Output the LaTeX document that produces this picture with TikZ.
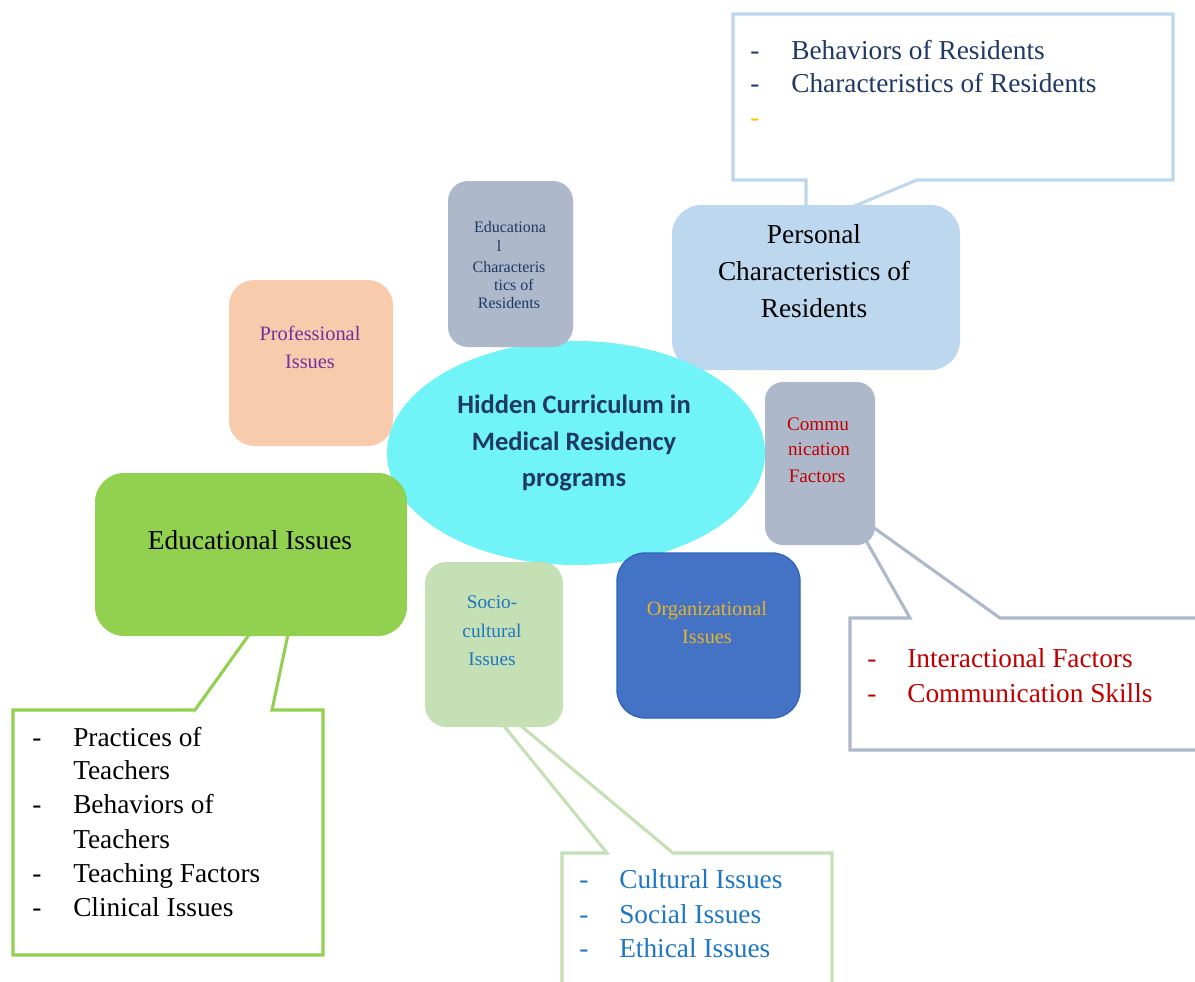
\documentclass[tikz,border=0pt]{standalone}
\usepackage{fontspec}
\setmainfont{Liberation Serif}
\newfontfamily\calibfont{Carlito}
\usetikzlibrary{fit,shapes.geometric}
\definecolor{cPers}{HTML}{BDD7EE}
\definecolor{cGray}{HTML}{ADB9CA}
\definecolor{cPeach}{HTML}{F8CBAD}
\definecolor{cGreen}{HTML}{92D050}
\definecolor{cLGreen}{HTML}{C5E0B4}
\definecolor{cBlue}{HTML}{4472C4}
\definecolor{cBlueLine}{HTML}{2F64B8}
\definecolor{cCyan}{HTML}{70F4F8}
\definecolor{cNavy}{HTML}{1F3864}
\definecolor{cPurple}{HTML}{7030A0}
\definecolor{cRed}{HTML}{C00000}
\definecolor{cGold}{HTML}{E8B52A}
\definecolor{cTBlue}{HTML}{1F77C4}
\definecolor{cOrange}{HTML}{FFC000}
\begin{document}
\begin{tikzpicture}[x=0.75pt,y=-0.75pt,
  txt/.style={inner sep=0pt, anchor=base},
  ltxt/.style={inner sep=0pt, anchor=base west},
  big/.style={font=\fontsize{20.5pt}{24pt}\selectfont},
  rbox/.style={inner sep=0pt, draw=none},
  callout/.style={line width=2.3pt, fill=white, line join=miter}]
\useasboundingbox (0,0) rectangle (1195,981);
\clip (0,0) rectangle (1195,981);

% callouts (behind)
\draw[callout, draw=cPers] (733,14) -- (1173,14) -- (1173,180) -- (917,180) -- (833,215) -- (806,215) -- (806,180) -- (733,180) -- cycle;
\draw[callout, draw=cGray] (850,618) -- (910,618) -- (860,530) -- (863,520) -- (1000,618) -- (1215,618) -- (1215,750) -- (850,750) -- cycle;
\draw[callout, draw=cLGreen] (562,853) -- (607,853) -- (495,715) -- (508,715) -- (673,853) -- (832,853) -- (832,1000) -- (562,1000) -- cycle;
\draw[callout, draw=cGreen] (13,710) -- (195,710) -- (256,625) -- (290,625) -- (272,710) -- (323,710) -- (323,955) -- (13,955) -- cycle;

% boxes
\node[rbox, fit={(229,280) (393,446)}, fill=cPeach, rounded corners=19pt] (prof) {};
\node[rbox, fit={(672,205) (960,370)}, fill=cPers, rounded corners=22pt] (pers) {};
\node[ellipse, inner sep=0pt, minimum width=283.5pt, minimum height=168pt, fill=cCyan] (hc) at (576,453) {};
\node[rbox, fit={(448,181) (573,347)}, fill=cGray, rounded corners=15pt] (edchar) {};
\node[rbox, fit={(95,473) (407,636)}, fill=cGreen, rounded corners=22pt] (edi) {};
\node[rbox, fit={(765,382) (875,545)}, fill=cGray, rounded corners=13.5pt] (comm) {};
\node[rbox, fit={(617,553) (800,718)}, fill=cBlue, draw=cBlueLine, line width=1pt, rounded corners=21pt] (org) {};
\node[rbox, fit={(425,562) (563,727)}, fill=cLGreen, rounded corners=16pt] (soc) {};

% center text
\begin{scope}[font=\calibfont\bfseries\fontsize{19.9pt}{24pt}\selectfont, text=cNavy]
\node[txt] (hc1) at (574,413) {Hidden Curriculum in};
\node[txt] (hc2) at (574,450) {Medical Residency};
\node[txt] (hc3) at (574,486) {programs};
\end{scope}

% personal box text
\begin{scope}[big]
\node[txt] (p1) at (814,243) {Personal};
\node[txt] (p2) at (814,280) {Characteristics of};
\node[txt] (p3) at (814,317) {Residents};
\node[txt] (e1) at (250,549) {Educational Issues};
\end{scope}

% professional
\begin{scope}[font=\fontsize{15.3pt}{18pt}\selectfont, text=cPurple]
\node[txt] (pr1) at (310,340) {Professional};
\node[txt] (pr2) at (310,368) {Issues};
\end{scope}

% educational characteristics
\begin{scope}[font=\fontsize{12pt}{14pt}\selectfont, text=cNavy]
\node[txt] (ec1) at (510,232) {Educationa};
\node[txt] (ec2) at (499,251) {l};
\node[txt] (ec3) at (509,272) {Characteris};
\node[txt] (ec4) at (514,290) {tics of};
\node[txt] (ec5) at (509,308) {Residents};
\end{scope}

% communication
\begin{scope}[font=\fontsize{14.4pt}{17pt}\selectfont, text=cRed]
\node[txt] (c1) at (818,430) {Commu};
\node[txt] (c2) at (819,455) {nication};
\node[txt] (c3) at (817,482) {Factors};
\end{scope}

% organizational
\begin{scope}[font=\fontsize{15.2pt}{18pt}\selectfont, text=cGold]
\node[txt] (o1) at (707,615) {Organizational};
\node[txt] (o2) at (707,643) {Issues};
\end{scope}

% socio-cultural
\begin{scope}[font=\fontsize{14.5pt}{17pt}\selectfont, text=cTBlue]
\node[txt] (s1) at (492,608) {Socio-};
\node[txt] (s2) at (492,637) {cultural};
\node[txt] (s3) at (492,665) {Issues};
\end{scope}

% callout texts
\begin{scope}[big, text=cNavy]
\node[ltxt] (pd1) at (750,60) {-};
\node[ltxt] (pt1) at (791,60) {Behaviors of Residents};
\node[ltxt] (pd2) at (750,93) {-};
\node[ltxt] (pt2) at (791,93) {Characteristics of Residents};
\node[ltxt, text=cOrange] (pd3) at (750,126) {-};
\end{scope}

\begin{scope}[big, text=cRed]
\node[ltxt] (cd1) at (867,667) {-};
\node[ltxt] (ct1) at (907,667) {Interactional Factors};
\node[ltxt] (cd2) at (867,702) {-};
\node[ltxt] (ct2) at (907,702) {Communication Skills};
\end{scope}

\begin{scope}[big, text=cTBlue]
\node[ltxt] (sd1) at (579,888) {-};
\node[ltxt] (st1) at (619,888) {Cultural Issues};
\node[ltxt] (sd2) at (579,923) {-};
\node[ltxt] (st2) at (619,923) {Social Issues};
\node[ltxt] (sd3) at (579,957) {-};
\node[ltxt] (st3) at (619,957) {Ethical Issues};
\end{scope}

\begin{scope}[big, text=black]
\node[ltxt] (ed1) at (32,746) {-};
\node[ltxt] (et1) at (73,746) {Practices of};
\node[ltxt] (et2) at (73,779) {Teachers};
\node[ltxt] (ed3) at (32,813) {-};
\node[ltxt] (et3) at (73,813) {Behaviors of};
\node[ltxt] (et4) at (73,848) {Teachers};
\node[ltxt] (ed5) at (32,882) {-};
\node[ltxt] (et5) at (73,882) {Teaching Factors};
\node[ltxt] (ed6) at (32,916) {-};
\node[ltxt] (et6) at (73,916) {Clinical Issues};
\end{scope}
\end{tikzpicture}
\end{document}
